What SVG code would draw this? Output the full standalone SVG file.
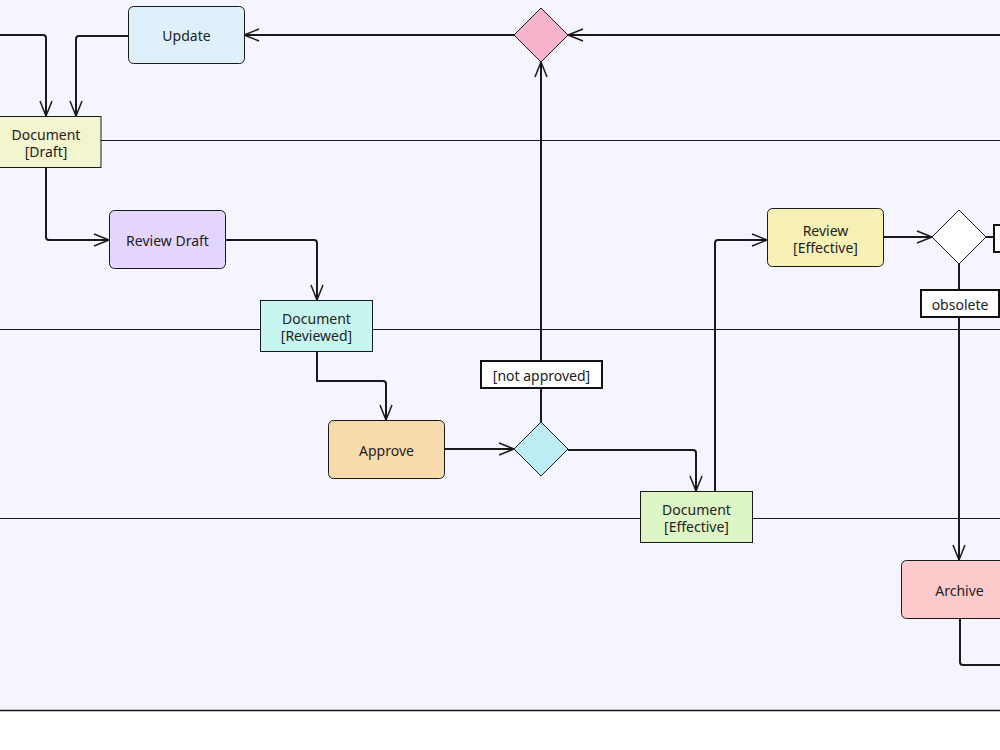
<svg xmlns="http://www.w3.org/2000/svg" width="1000" height="750" viewBox="0 0 1000 750">
<defs>
<style>
.node{stroke:#1a1a1a;stroke-width:1}
.lane{stroke:#1a1a1a;stroke-width:1;fill:none}
.edge{stroke:#1a1a1a;stroke-width:2;fill:none;stroke-linejoin:round}
.lbl{fill:#ffffff;stroke:#111;stroke-width:2}
text{font-family:"Noto Sans","DejaVu Sans",sans-serif;font-size:14px;fill:#222;text-anchor:middle}
</style>
<marker id="arr" markerWidth="18" markerHeight="14" refX="16" refY="7" orient="auto" markerUnits="userSpaceOnUse">
<path d="M1,1 L16,7 L1,13" fill="none" stroke="#1a1a1a" stroke-width="1.5"/>
</marker>
</defs>
<rect x="0" y="0" width="1000" height="710" fill="#f4f5fe"/>
<rect x="0" y="710" width="1000" height="40" fill="#ffffff"/>
<g id="lanes">
<line class="lane" x1="0" y1="140.5" x2="1000" y2="140.5"/>
<line class="lane" x1="0" y1="329.5" x2="1000" y2="329.5"/>
<line class="lane" x1="0" y1="518.5" x2="1000" y2="518.5"/>
<line x1="0" y1="710.5" x2="1000" y2="710.5" stroke="#1a1a1a" stroke-width="1.5"/>
</g>
<g id="connectors">
<path class="edge" d="M0,35 H43 Q46,35 46,38 V116" marker-end="url(#arr)"/>
<path class="edge" d="M128,36 H79 Q76,36 76,39 V116" marker-end="url(#arr)"/>
<path class="edge" d="M514,35 H244" marker-end="url(#arr)"/>
<path class="edge" d="M1000,35 H568" marker-end="url(#arr)"/>
<path class="edge" d="M541,422 V62" marker-end="url(#arr)"/>
<path class="edge" d="M46,167 V237 Q46,240 49,240 H109" marker-end="url(#arr)"/>
<path class="edge" d="M225,240 H314 Q317,240 317,243 V300" marker-end="url(#arr)"/>
<path class="edge" d="M317,351 V381 H383 Q386,381 386,384 V420" marker-end="url(#arr)"/>
<path class="edge" d="M444,449 H514" marker-end="url(#arr)"/>
<path class="edge" d="M568,450 H693 Q696,450 696,453 V491" marker-end="url(#arr)"/>
<path class="edge" d="M715,491 V243 Q715,240 718,240 H767" marker-end="url(#arr)"/>
<path class="edge" d="M883,237 H932" marker-end="url(#arr)"/>
<path class="edge" d="M986,237 H993"/>
<path class="edge" d="M959,264 V560" marker-end="url(#arr)"/>
<path class="edge" d="M960,618 V662 Q960,665 963,665 H1000"/>
<rect class="lbl" x="481" y="361" width="121" height="27"/>
<text x="541.5" y="381">[not approved]</text>
<rect class="lbl" x="921" y="290" width="78" height="27"/>
<text x="960" y="310">obsolete</text>
</g>
<g id="update">
<rect class="node" x="128.5" y="6.5" width="116" height="57" rx="5" fill="#dff0fa"/>
<text x="186.5" y="41">Update</text>
</g>
<g id="decision-top">
<polygon class="node" points="514,35 541,8 568,35 541,62" fill="#f8b4cc"/>
</g>
<g id="doc-draft">
<rect class="node" x="-1" y="116.5" width="102" height="51" fill="#f3f5cf"/>
<text x="46" y="140">Document</text>
<text x="46" y="157">[Draft]</text>
</g>
<g id="review-draft">
<rect class="node" x="109.5" y="210.5" width="116" height="58" rx="5" fill="#e3d5fb"/>
<text x="167.5" y="246">Review Draft</text>
</g>
<g id="doc-reviewed">
<rect class="node" x="260.5" y="300.5" width="112" height="51" fill="#c7f5ef"/>
<text x="316.5" y="324">Document</text>
<text x="316.5" y="341">[Reviewed]</text>
</g>
<g id="approve">
<rect class="node" x="328.5" y="420.5" width="116" height="58" rx="5" fill="#f8dbaa"/>
<text x="386.5" y="456">Approve</text>
</g>
<g id="decision-approve">
<polygon class="node" points="514,449 541,422 568,449 541,476" fill="#bdecf4"/>
</g>
<g id="doc-effective">
<rect class="node" x="640.5" y="491.5" width="112" height="51" fill="#def5c6"/>
<text x="696.5" y="515">Document</text>
<text x="696.5" y="532">[Effective]</text>
</g>
<g id="review-effective">
<rect class="node" x="767.5" y="208.5" width="116" height="58" rx="5" fill="#f7f1b6"/>
<text x="825.5" y="236">Review</text>
<text x="825.5" y="253">[Effective]</text>
</g>
<g id="decision-review">
<polygon class="node" points="932,237 959,210 986,237 959,264" fill="#ffffff"/>
</g>
<g id="offscreen-label">
<rect class="lbl" x="994" y="225" width="20" height="27"/>
</g>
<g id="archive">
<rect class="node" x="901.5" y="560.5" width="116" height="58" rx="5" fill="#fdcbcb"/>
<text x="959.5" y="596">Archive</text>
</g>
</svg>
